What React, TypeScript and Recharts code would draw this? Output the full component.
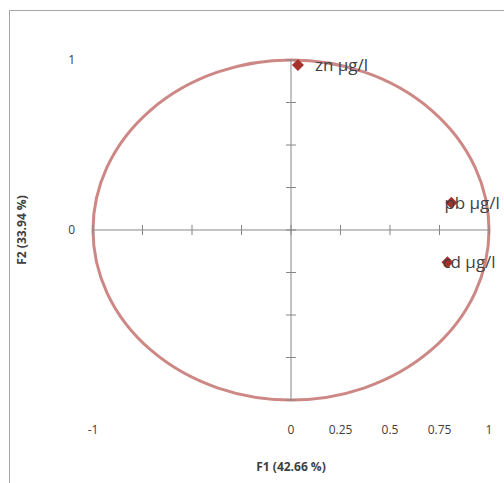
import React from 'react';
import { ScatterChart, Scatter, XAxis, YAxis, ReferenceLine, ReferenceArea } from 'recharts';

// correlation circle, variables on F1 / F2
const VARIABLES = ['zn µg/l', 'pb µg/l', 'cd µg/l'];
const F1_VALUES = [0.035, 0.81, 0.79];
const F2_VALUES = [0.97, 0.16, -0.19];
const X_TICK_LABELS = [-1, 0, 0.25, 0.5, 0.75, 1];
const Y_TICK_LABELS = [0, 1];
const AXIS_STEPS = [-1, -0.75, -0.5, -0.25, 0, 0.25, 0.5, 0.75, 1];

// label offsets (px) next to each marker
const LABEL_DX = [17, -7, -5];

const FONT = '"Open Sans", "Liberation Sans", sans-serif';
const TEXT_COLOR = '#404040';
const AXIS_COLOR = '#868686';
const CIRCLE_COLOR = '#CD8886';
const MARKER_COLOR = '#A5302C';

const data = VARIABLES.map((name, i) => ({ name, x: F1_VALUES[i], y: F2_VALUES[i] }));

const Marker = (props: any) => {
  const { cx, cy, payload } = props;
  const i = VARIABLES.indexOf(payload.name);
  const r = 6;
  return (
    <g>
      <polygon
        points={`${cx},${cy - r} ${cx + r},${cy} ${cx},${cy + r} ${cx - r},${cy}`}
        fill={MARKER_COLOR}
      />
      <text
        x={cx + LABEL_DX[i]}
        y={cy}
        dy="0.35em"
        fontSize={17}
        fontFamily={FONT}
        fill={TEXT_COLOR}
      >
        {payload.name}
      </text>
    </g>
  );
};

const Circle = (props: any) => {
  const { x, y, width, height } = props;
  return (
    <ellipse
      cx={x + width / 2}
      cy={y + height / 2}
      rx={width / 2}
      ry={height / 2}
      fill="none"
      stroke={CIRCLE_COLOR}
      strokeWidth={3}
    />
  );
};

const XTitle = ({ viewBox }: any) => (
  <text
    x={viewBox.x + viewBox.width / 2}
    y={viewBox.y + 71}
    textAnchor="middle"
    fontSize={12}
    fontWeight="bold"
    fontFamily={FONT}
    fill={TEXT_COLOR}
  >
    F1 (42.66 %)
  </text>
);

const YTitle = ({ viewBox }: any) => {
  const cx = viewBox.x + 12;
  const cy = viewBox.y + viewBox.height / 2;
  return (
    <text
      x={cx}
      y={cy}
      textAnchor="middle"
      dy="0.35em"
      transform={`rotate(-90 ${cx} ${cy})`}
      fontSize={12}
      fontWeight="bold"
      fontFamily={FONT}
      fill={TEXT_COLOR}
    >
      F2 (33.94 %)
    </text>
  );
};

export default function App() {
  const tickStyle = { fontSize: 12, fontFamily: FONT, fill: TEXT_COLOR };
  return (
    <div style={{ position: 'absolute', left: 0, top: 0, width: 504, height: 483, background: '#fff', overflow: 'hidden' }}>
      <div
        style={{
          position: 'absolute',
          left: 9,
          top: 10,
          width: 600,
          height: 600,
          borderTop: '1px solid #a6a6a6',
          borderLeft: '1px solid #a6a6a6',
        }}
      />
      <div style={{ position: 'absolute', left: 0, top: 0 }}>
        <ScatterChart width={504} height={483} margin={{ top: 60, right: 15, bottom: 8, left: 10 }}>
          <XAxis
            type="number"
            dataKey="x"
            domain={[-1, 1]}
            ticks={X_TICK_LABELS}
            interval={0}
            axisLine={false}
            tickLine={false}
            tickSize={0}
            tickMargin={25}
            height={75}
            tick={tickStyle}
            label={{ content: XTitle }}
          />
          <YAxis
            type="number"
            dataKey="y"
            domain={[-1, 1]}
            ticks={Y_TICK_LABELS}
            interval={0}
            axisLine={false}
            tickLine={false}
            tickSize={0}
            tickMargin={18}
            width={83}
            tick={tickStyle}
            label={{ content: YTitle }}
          />
          <ReferenceLine y={0} stroke={AXIS_COLOR} ifOverflow="visible" />
          <ReferenceLine x={0} stroke={AXIS_COLOR} ifOverflow="visible" />
          {AXIS_STEPS.map((t) => (
            <ReferenceLine
              key={`xt-${t}`}
              segment={[{ x: t, y: -0.03 }, { x: t, y: 0.03 }]}
              stroke={AXIS_COLOR}
              ifOverflow="visible"
            />
          ))}
          {AXIS_STEPS.map((t) => (
            <ReferenceLine
              key={`yt-${t}`}
              segment={[{ x: -0.025, y: t }, { x: 0.025, y: t }]}
              stroke={AXIS_COLOR}
              ifOverflow="visible"
            />
          ))}
          <ReferenceArea x1={-1} x2={1} y1={-1} y2={1} ifOverflow="visible" shape={Circle} />
          <Scatter data={data} shape={Marker} isAnimationActive={false} />
        </ScatterChart>
      </div>
    </div>
  );
}
